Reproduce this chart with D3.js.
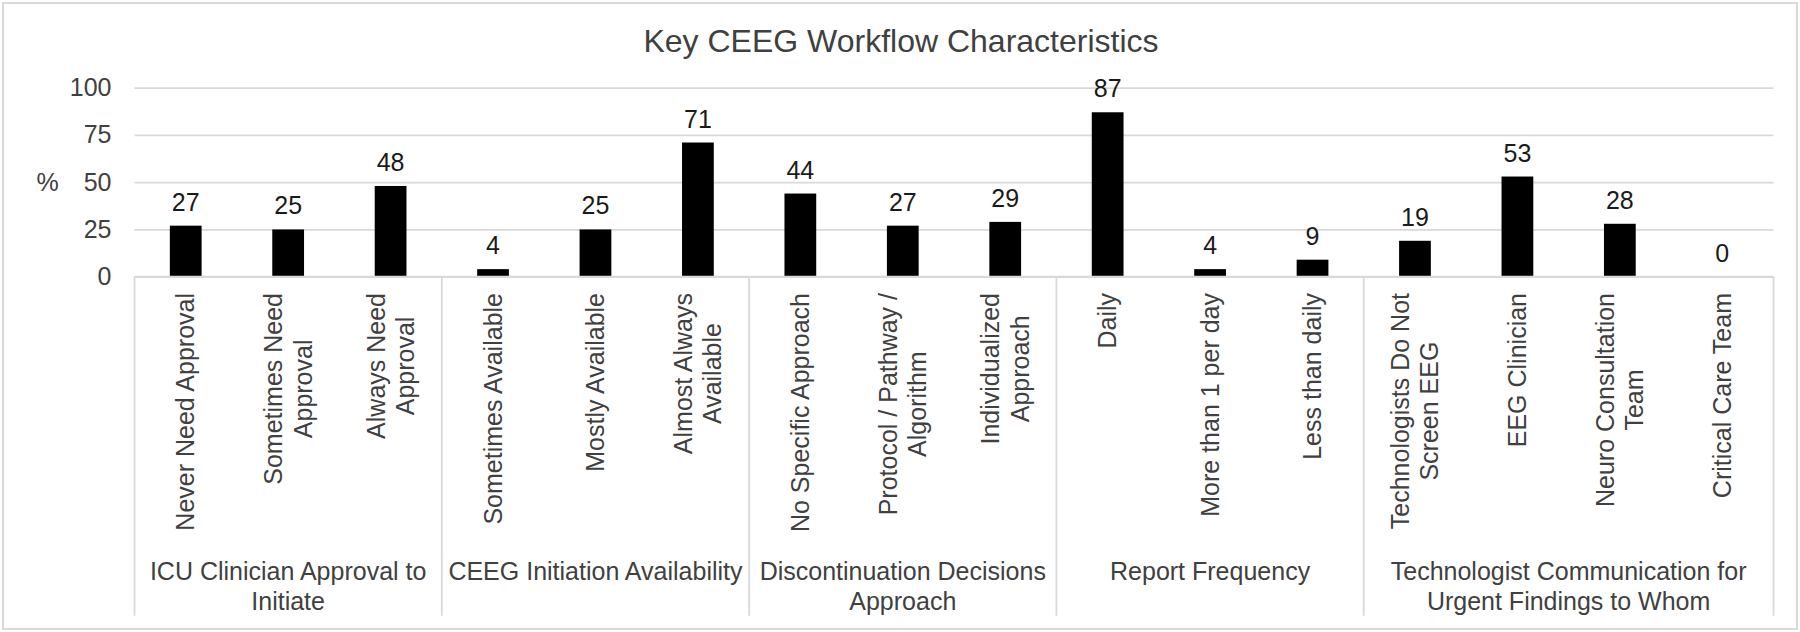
<!DOCTYPE html>
<html>
<head>
<meta charset="utf-8">
<script src="https://cdn.jsdelivr.net/npm/d3@7"></script>
<style>
  body { margin: 0; background: #fff; }
  text { font-family: "Liberation Sans", Arial, sans-serif; }
</style>
</head>
<body>
<div id="chart"></div>
<script>
// categories (each entry = lines of the rotated label)
const categories = [
    ["Never Need Approval"],
    ["Sometimes Need", "Approval"],
    ["Always Need", "Approval"],
    ["Sometimes Available"],
    ["Mostly Available"],
    ["Almost Always", "Available"],
    ["No Specific Approach"],
    ["Protocol / Pathway /", "Algorithm"],
    ["Individualized", "Approach"],
    ["Daily"],
    ["More than 1 per day"],
    ["Less than daily"],
    ["Technologists Do Not", "Screen EEG"],
    ["EEG Clinician"],
    ["Neuro Consultation", "Team"],
    ["Critical Care Team"]
];
const values = [27, 25, 48, 4, 25, 71, 44, 27, 29, 87, 4, 9, 19, 53, 28, 0];

const groupLabels = [
    ["ICU Clinician Approval to", "Initiate"],
    ["CEEG Initiation Availability"],
    ["Discontinuation Decisions", "Approach"],
    ["Report Frequency"],
    ["Technologist Communication for", "Urgent Findings to Whom"]
];
const groupCounts = [3, 3, 3, 3, 4];

const yTicks = [0, 25, 50, 75, 100];

const W = 1800, H = 632;
const plot = { left: 134.5, right: 1773.5, top: 87.7, bottom: 276.7 };
const labelTop = 293;
const dividerBottom = 615.7;
const textCol = "#404040";
const gridCol = "#d9d9d9";

const svg = d3.select("#chart")
    .append("svg")
    .attr("width", W)
    .attr("height", H);

// chart border
svg.append("rect")
    .attr("x", 3).attr("y", 3)
    .attr("width", W - 6).attr("height", H - 6)
    .attr("fill", "#fff")
    .attr("stroke", gridCol)
    .attr("stroke-width", 2);

svg.append("text")
    .attr("x", 901).attr("y", 52)
    .attr("text-anchor", "middle")
    .attr("font-size", 32)
    .attr("fill", textCol)
    .text("Key CEEG Workflow Characteristics");

const x = d3.scaleBand()
    .domain(d3.range(categories.length))
    .range([plot.left, plot.right]);

const y = d3.scaleLinear()
    .domain([0, 100])
    .range([plot.bottom, plot.top]);

// gridlines + tick labels
const yAxis = svg.append("g")
    .attr("transform", "translate(" + plot.left + ",0)")
    .call(d3.axisLeft(y).tickValues(yTicks).tickSize(-(plot.right - plot.left)).tickPadding(23));
yAxis.select(".domain").remove();
yAxis.selectAll(".tick line").attr("stroke", gridCol).attr("stroke-width", 1.8);
yAxis.selectAll(".tick text")
    .attr("font-size", 25)
    .attr("fill", textCol)
    .style("font-family", "'Liberation Sans', Arial, sans-serif");

svg.append("text")
    .attr("x", 47.5).attr("y", y(50))
    .attr("dy", "0.35em")
    .attr("text-anchor", "middle")
    .attr("font-size", 25)
    .attr("fill", textCol)
    .text("%");

// bars
const barW = x.bandwidth() * 0.31;
svg.append("g")
    .selectAll("rect")
    .data(values)
    .join("rect")
    .attr("x", (d, i) => x(i) + x.bandwidth() / 2 - barW / 2)
    .attr("y", (d) => y(d))
    .attr("width", barW)
    .attr("height", (d) => y(0) - y(d))
    .attr("fill", "#000");

// value labels
svg.append("g")
    .selectAll("text")
    .data(values)
    .join("text")
    .attr("x", (d, i) => x(i) + x.bandwidth() / 2)
    .attr("y", (d) => y(d) - 15)
    .attr("text-anchor", "middle")
    .attr("font-size", 25)
    .attr("fill", "#1a1a1a")
    .text((d) => d);

// category axis line
svg.append("line")
    .attr("x1", plot.left).attr("x2", plot.right)
    .attr("y1", y(0)).attr("y2", y(0))
    .attr("stroke", gridCol).attr("stroke-width", 1.8);

// group dividers
let bounds = [0];
groupCounts.forEach((c) => bounds.push(bounds[bounds.length - 1] + c));
const boundX = (b) => (b < categories.length ? x(b) : plot.right);

svg.append("g")
    .selectAll("line")
    .data(bounds)
    .join("line")
    .attr("x1", boundX).attr("x2", boundX)
    .attr("y1", y(0)).attr("y2", dividerBottom)
    .attr("stroke", gridCol).attr("stroke-width", 1.8);

// rotated category labels
const lineGap = 29.5;
categories.forEach((lines, i) => {
    const g = svg.append("g")
        .attr("transform", "translate(" + (x(i) + x.bandwidth() / 2) + "," + labelTop + ") rotate(-90)");
    const t = g.selectAll("text")
        .data(lines)
        .join("text")
        .attr("y", (d, j) => (j - (lines.length - 1) / 2) * lineGap)
        .attr("dy", "0.35em")
        .attr("text-anchor", "middle")
        .attr("font-size", 25)
        .attr("fill", textCol)
        .text((d) => d);
    let maxLen = 0;
    t.each(function () { maxLen = Math.max(maxLen, this.getComputedTextLength()); });
    t.attr("x", -maxLen / 2);
});

// group labels
groupLabels.forEach((lines, k) => {
    const cx = (boundX(bounds[k]) + boundX(bounds[k + 1])) / 2;
    svg.append("g")
        .selectAll("text")
        .data(lines)
        .join("text")
        .attr("x", cx)
        .attr("y", (d, j) => 580 + j * lineGap)
        .attr("text-anchor", "middle")
        .attr("font-size", 25)
        .attr("fill", textCol)
        .text((d) => d);
});
</script>
</body>
</html>
